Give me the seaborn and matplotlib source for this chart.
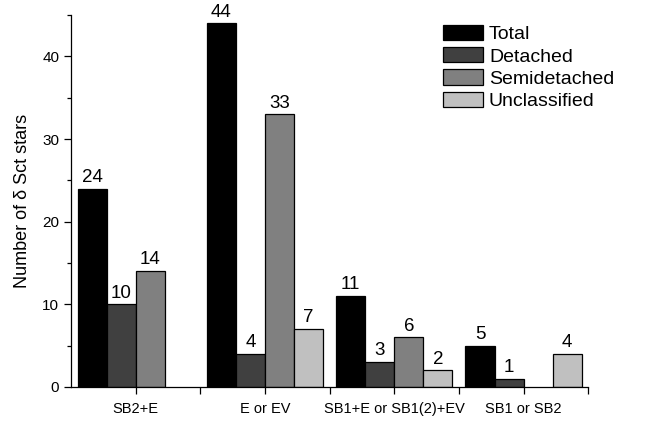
import numpy as np
import pandas as pd
import matplotlib
matplotlib.use("Agg")
import matplotlib.pyplot as plt
import seaborn as sns
from matplotlib.ticker import MultipleLocator, FixedLocator

# Data
groups = ["SB2+E", "E or EV", "SB1+E or SB1(2)+EV", "SB1 or SB2"]
series = ["Total", "Detached", "Semidetached", "Unclassified"]
total = [24, 44, 11, 5]
detached = [10, 4, 3, 1]
semidetached = [14, 33, 6, np.nan]
unclassified = [np.nan, 7, 2, 4]
colors = ["#000000", "#404040", "#808080", "#c0c0c0"]

df = pd.DataFrame({
    "group": groups * 4,
    "type": np.repeat(series, len(groups)),
    "count": total + detached + semidetached + unclassified,
})
df = df.dropna()

sns.set_style("ticks")
plt.rcParams["font.family"] = ["Liberation Sans", "DejaVu Sans"]
plt.rcParams["text.color"] = "black"
plt.rcParams["axes.labelcolor"] = "black"
plt.rcParams["xtick.color"] = "black"
plt.rcParams["ytick.color"] = "black"
plt.rcParams["axes.edgecolor"] = "black"

fig = plt.figure(figsize=(6.58, 4.21), dpi=100)
ax = fig.add_axes([0.108, 0.081, 0.786, 0.883])

sns.barplot(data=df, x="group", y="count", hue="type", order=groups,
            hue_order=series, palette=colors, width=0.9, dodge=True,
            edgecolor="black", linewidth=0.9, saturation=1, ax=ax,
            errorbar=None)

for cont in ax.containers:
    ax.bar_label(cont, fmt="%d", fontsize=13.5, padding=2, color="black")

ax.set_xlim(-0.5, 3.5)
ax.set_ylim(0, 45)
ax.set_xlabel("")
ax.set_ylabel("Number of δ Sct stars", fontsize=13, labelpad=8)
ax.yaxis.set_major_locator(MultipleLocator(10))
ax.yaxis.set_minor_locator(MultipleLocator(5))
ax.xaxis.set_minor_locator(FixedLocator([0.5, 1.5, 2.5, 3.5]))
ax.tick_params(axis="both", which="major", direction="out", length=5, width=0.9)
ax.tick_params(axis="both", which="minor", direction="out", length=3, width=0.9)
ax.tick_params(axis="x", which="minor", length=5)
ax.tick_params(axis="x", labelsize=10.5, pad=6)
ax.tick_params(axis="y", labelsize=11)
for s in ["top", "right"]:
    ax.spines[s].set_visible(False)
for s in ["left", "bottom"]:
    ax.spines[s].set_linewidth(0.9)

ax.legend(loc="upper left", bbox_to_anchor=(443 / 658, 1 - 25 / 421),
          bbox_transform=fig.transFigure, frameon=False, fontsize=14,
          handlelength=2.06, handleheight=0.82, labelspacing=0.2,
          handletextpad=0.3, borderpad=0, borderaxespad=0, title=None)

fig.savefig("out.png", dpi=100)
